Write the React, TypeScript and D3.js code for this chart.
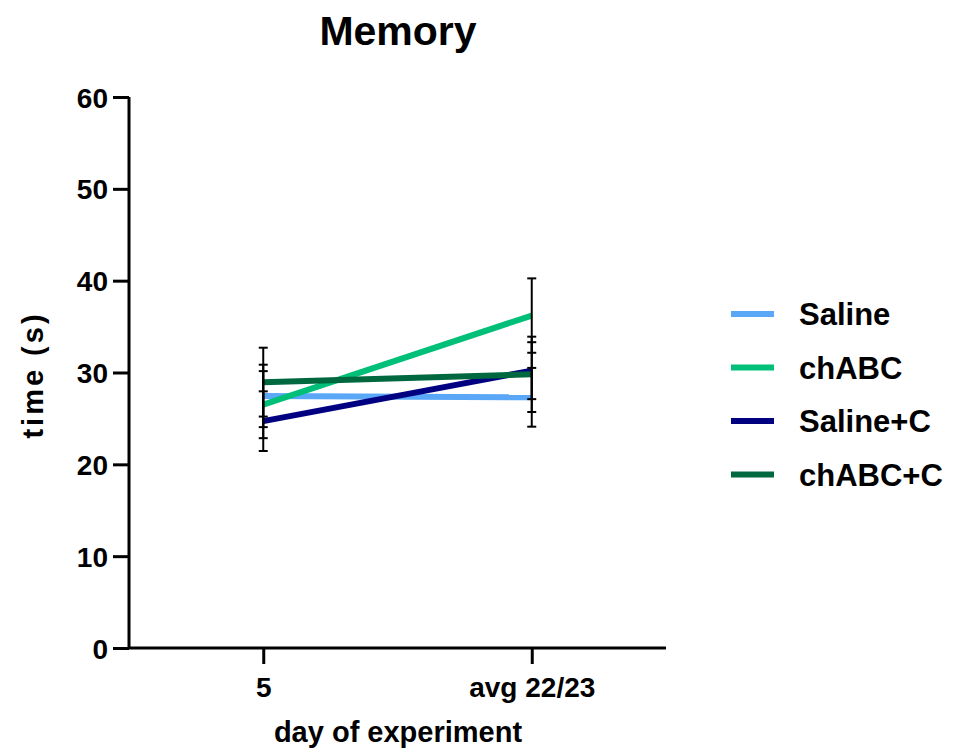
import React, { useEffect, useRef } from "react";
import * as d3 from "d3";

const days = ["5", "avg 22/23"];
const seriesNames = ["Saline", "chABC", "Saline+C", "chABC+C"];
const seriesColors = ["#5aa7f8", "#00bf78", "#000080", "#00683f"];
const means = [
  [27.45, 27.3],
  [26.5, 36.2],
  [24.7, 30.2],
  [28.95, 29.8],
];
const sems = [
  [3.4, 3.2],
  [3.65, 4.05],
  [3.25, 3.1],
  [3.75, 4.1],
];
const yTicks = [0, 10, 20, 30, 40, 50, 60];

const FONT = "'Liberation Sans', Arial, sans-serif";

export default function App() {
  const ref = useRef<SVGSVGElement>(null);

  useEffect(() => {
    const svg = d3.select(ref.current);
    svg.selectAll("*").remove();

    const left = 129, right = 666, top = 97, bottom = 648;
    const x = d3.scalePoint().domain(days).range([left, right]).padding(0.5);
    const y = d3.scaleLinear().domain([0, 60]).range([bottom, top]);

    // title
    svg.append("text")
      .attr("x", 398).attr("y", 45)
      .attr("text-anchor", "middle")
      .style("font", `bold 41px ${FONT}`)
      .text("Memory");

    // y axis
    const ya = svg.append("g").attr("transform", `translate(${left},0)`)
      .call(d3.axisLeft(y).tickValues(yTicks).tickSize(16).tickPadding(5).tickFormat(d3.format("d")));
    ya.select(".domain").attr("stroke-width", 3).attr("d", `M0,${top}V${bottom}`);
    ya.selectAll(".tick line").attr("stroke-width", 3);
    ya.selectAll(".tick text").style("font", `bold 28px ${FONT}`).attr("fill", "#000").attr("dy", "0.36em");

    // x axis
    const xa = svg.append("g").attr("transform", `translate(0,${bottom})`)
      .call(d3.axisBottom(x).tickSize(16).tickPadding(8));
    xa.select(".domain").attr("stroke-width", 3).attr("d", `M${left},0H${right}`);
    xa.selectAll(".tick line").attr("stroke-width", 3);
    xa.selectAll(".tick text").style("font", `bold 28px ${FONT}`).attr("fill", "#000").attr("dy", "0.9em");

    // axis titles
    svg.append("text")
      .attr("transform", "translate(43,375) rotate(-90)")
      .attr("text-anchor", "middle")
      .style("font", `bold 29px ${FONT}`)
      .style("letter-spacing", "3px")
      .text("time (s)");
    svg.append("text")
      .attr("x", 398).attr("y", 742)
      .attr("text-anchor", "middle")
      .style("font", `bold 29px ${FONT}`)
      .text("day of experiment");

    // lines
    const line = d3.line<number>().x((_, i) => x(days[i])!).y((d) => y(d));
    means.forEach((m, s) => {
      svg.append("path")
        .attr("d", line(m))
        .attr("fill", "none")
        .attr("stroke", seriesColors[s])
        .attr("stroke-width", 6);
    });

    // error bars
    means.forEach((m, s) => {
      m.forEach((v, i) => {
        const cx = x(days[i])!;
        const lo = y(v - sems[s][i]);
        const hi = y(v + sems[s][i]);
        const g = svg.append("g").attr("stroke", "#000").attr("stroke-width", 2);
        g.append("line").attr("x1", cx).attr("x2", cx).attr("y1", lo).attr("y2", hi);
        g.append("line").attr("x1", cx - 4.5).attr("x2", cx + 4.5).attr("y1", lo).attr("y2", lo);
        g.append("line").attr("x1", cx - 4.5).attr("x2", cx + 4.5).attr("y1", hi).attr("y2", hi);
      });
    });

    // legend
    seriesNames.forEach((name, s) => {
      const ly = 314 + s * 53.5;
      svg.append("line")
        .attr("x1", 731).attr("x2", 774).attr("y1", ly).attr("y2", ly)
        .attr("stroke", seriesColors[s]).attr("stroke-width", 6);
      svg.append("text")
        .attr("x", 799).attr("y", ly + 11)
        .style("font", `bold 31px ${FONT}`)
        .text(name);
    });
  }, []);

  return (
    <svg
      ref={ref}
      width={953}
      height={753}
      style={{ position: "absolute", left: 0, top: 0, background: "#fff" }}
    />
  );
}
